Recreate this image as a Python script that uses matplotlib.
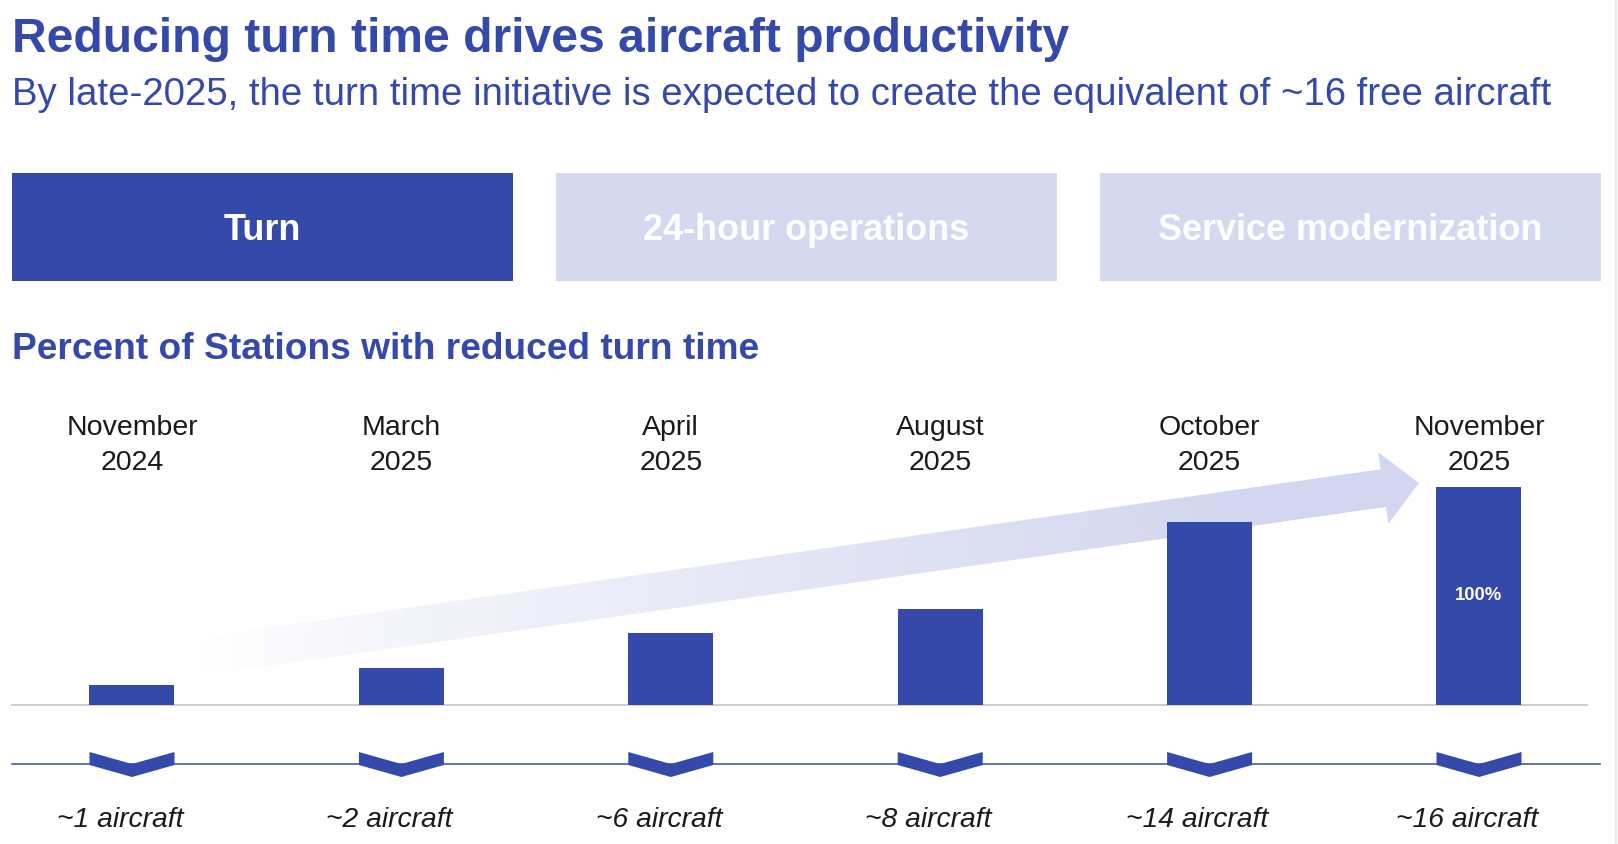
import matplotlib
matplotlib.use("Agg")
import matplotlib.pyplot as plt
import numpy as np
from matplotlib.patches import Polygon, Rectangle

plt.rcParams['font.family'] = ['Liberation Sans', 'DejaVu Sans']

# ---------------- data ----------------
months = ["November", "March", "April", "August", "October", "November"]
years = ["2024", "2025", "2025", "2025", "2025", "2025"]
pct_values = [9, 17, 33, 44, 84, 100]
aircraft_labels = ["~1 aircraft", "~2 aircraft", "~6 aircraft",
                   "~8 aircraft", "~14 aircraft", "~16 aircraft"]
bar_value_labels = ["", "", "", "", "", "100%"]
tabs = ["Turn", "24-hour operations", "Service modernization"]
active_tab = 0

title = "Reducing turn time drives aircraft productivity"
subtitle = ("By late-2025, the turn time initiative is expected to create "
            "the equivalent of ~16 free aircraft")
heading = "Percent of Stations with reduced turn time"

# ---------------- style ----------------
BLUE = "#3549AB"
LIGHT = "#D5D9F0"
TEXT_DARK = "#1A1A1A"
W, H, DPI = 1618, 844, 100

fig = plt.figure(figsize=(W / DPI, H / DPI), dpi=DPI)
fig.patch.set_facecolor("white")

# overlay axes in pixel coordinates (for decoration)
ov = fig.add_axes([0, 0, 1, 1])
ov.set_xlim(0, W)
ov.set_ylim(H, 0)
ov.axis("off")

renderer = fig.canvas.get_renderer()


def fit(t, target_w):
    for _ in range(2):
        bb = t.get_window_extent(renderer=renderer)
        t.set_fontsize(t.get_fontsize() * target_w / bb.width)


# titles
t1 = ov.text(12, 52, title, fontsize=32, fontweight="bold", color=BLUE,
             ha="left", va="baseline")
fit(t1, 1056)
t2 = ov.text(12, 105, subtitle, fontsize=27, color=BLUE,
             ha="left", va="baseline")
fit(t2, 1538)

# tabs
tab_x = [12, 556, 1100]
tab_w, tab_top, tab_h = 501, 173, 108
tab_texts = []
for k, (x0, lab) in enumerate(zip(tab_x, tabs)):
    fc = BLUE if k == active_tab else LIGHT
    ov.add_patch(Rectangle((x0, tab_top), tab_w, tab_h, facecolor=fc,
                           edgecolor="none"))
    tt = ov.text(x0 + tab_w / 2, 240, lab, fontsize=25, fontweight="bold",
                 color="white", ha="center", va="baseline")
    tab_texts.append(tt)
fit(tab_texts[1], 325)
for tt in tab_texts:
    tt.set_fontsize(tab_texts[1].get_fontsize())

# section heading
th = ov.text(12, 359, heading, fontsize=26, fontweight="bold", color=BLUE,
             ha="left", va="baseline")
fit(th, 746)

# gradient arrow (behind bars)
S = np.array([190.0, 658.0])
T = np.array([1419.0, 483.0])
d = T - S
u = d / np.linalg.norm(d)
n = np.array([-u[1], u[0]])
hs, hh, hl = 19.0, 36.0, 36.0
B = T - u * hl
pts = [S + n * hs, B + n * hs, B + n * hh, T, B - n * hh, B - n * hs, S - n * hs]
arrow = Polygon(pts, closed=True, facecolor="none", edgecolor="none")
ov.add_patch(arrow)
x0g, x1g, y0g, y1g = 150, 1440, 430, 710
xs = np.linspace(x0g, x1g, 800)
alpha = np.clip((xs - 200) / (1260 - 200), 0, 1) ** 0.85
rgba = np.zeros((2, xs.size, 4))
rgba[..., 0] = 210 / 255
rgba[..., 1] = 214 / 255
rgba[..., 2] = 239 / 255
rgba[..., 3] = alpha[None, :]
im = ov.imshow(rgba, extent=(x0g, x1g, y1g, y0g), origin="upper",
               aspect="auto", interpolation="bilinear", zorder=1)
im.set_clip_path(arrow)
ov.set_xlim(0, W)
ov.set_ylim(H, 0)

# blue separator line
ov.plot([12, 1600], [764, 764], color=BLUE, lw=1.1, zorder=2)
# faint right border
ov.plot([1616, 1616], [0, H], color="#E4E4E8", lw=1.2, zorder=2)

# ---------------- bar axes ----------------
c0, step = 132.0, 269.4
base_px, top_px = 705.0, 487.0
ax_l, ax_r = 12.0, 1587.0


def xdata(px):
    return (px - c0) / step


def fr(py):
    return (base_px - py) / (base_px - top_px)


ax = fig.add_axes([ax_l / W, 1 - base_px / H, (ax_r - ax_l) / W,
                   (base_px - top_px) / H])
ax.set_facecolor("none")
ax.set_xlim(xdata(ax_l), xdata(ax_r))
ax.set_ylim(0, 100)
xpos = np.arange(len(pct_values))
ax.bar(xpos, pct_values, width=85 / step, color=BLUE, zorder=3)
for s in ["top", "left", "right"]:
    ax.spines[s].set_visible(False)
ax.spines["bottom"].set_color("#C9C9CD")
ax.spines["bottom"].set_linewidth(1.3)
ax.set_xticks([])
ax.set_yticks([])

xt = ax.get_xaxis_transform()
hw = 42.5 / step
for i in xpos:
    ax.text(i, fr(435), months[i], transform=xt, ha="center", va="baseline",
            fontsize=20.5, color=TEXT_DARK, clip_on=False)
    ax.text(i, fr(470), years[i], transform=xt, ha="center", va="baseline",
            fontsize=20.5, color=TEXT_DARK, clip_on=False)
    chev = Polygon([(i - hw, fr(752)), (i, fr(764)), (i + hw, fr(752)),
                    (i + hw, fr(765)), (i, fr(777)), (i - hw, fr(765))],
                   closed=True, transform=xt, facecolor=BLUE,
                   edgecolor="none", clip_on=False, zorder=4)
    ax.add_patch(chev)
    ax.text(i - 12 / step, fr(827), aircraft_labels[i], transform=xt,
            ha="center", va="baseline", fontsize=20.3, style="italic",
            color=TEXT_DARK, clip_on=False)
    if bar_value_labels[i]:
        ax.text(i, pct_values[i] / 2, bar_value_labels[i], ha="center",
                va="center", fontsize=13.3, fontweight="bold", color="white",
                zorder=5)

fig.savefig("out.png", dpi=DPI, facecolor="white")
